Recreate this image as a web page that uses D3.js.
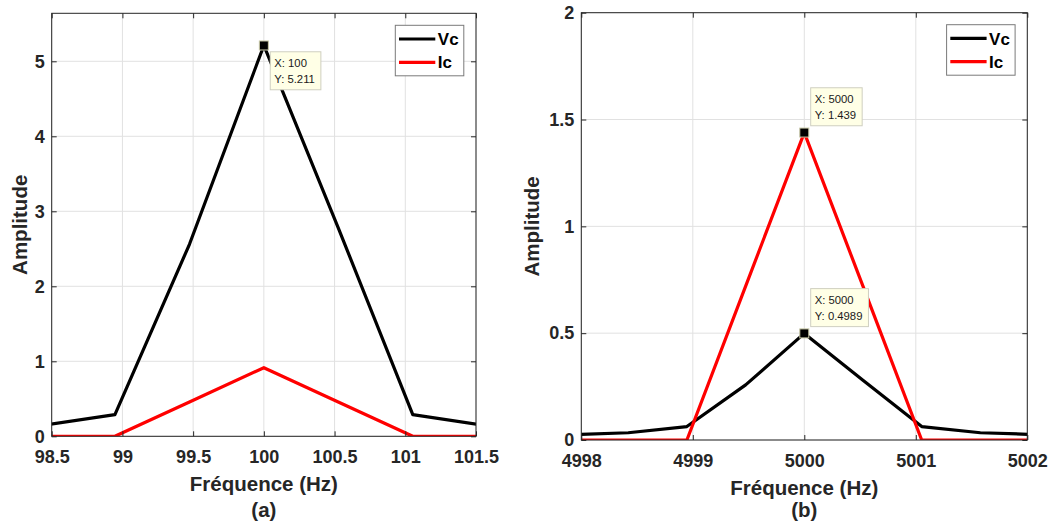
<!DOCTYPE html>
<html>
<head>
<meta charset="utf-8">
<script src="https://cdn.jsdelivr.net/npm/d3@7"></script>
<style>
  html, body { margin: 0; padding: 0; background: #ffffff; }
  svg { display: block; font-family: "Liberation Sans", Arial, Helvetica, sans-serif; }
</style>
</head>
<body>
<svg id="chart" width="1052" height="529"></svg>
<script>
// ---------------- DATA ----------------
// Panel (a)
const freqA = [98.421, 98.947, 99.474, 100, 100.526, 101.053, 101.579];
const vcA   = [0.14, 0.288, 2.56, 5.211, 2.78, 0.288, 0.14];
const icA   = [0, 0, 0.457, 0.915, 0.457, 0, 0];
const xTicksA = [98.5, 99, 99.5, 100, 100.5, 101, 101.5];
const xTickLabelsA = ["98.5", "99", "99.5", "100", "100.5", "101", "101.5"];
const yTicksA = [0, 1, 2, 3, 4, 5];
const yTickLabelsA = ["0", "1", "2", "3", "4", "5"];
const tipsA = [{ x: 100, y: 5.211, lines: ["X: 100", "Y: 5.211"], below: true }];

// Panel (b)
const freqB = [4997.895, 4998.421, 4998.947, 4999.474, 5000, 5000.526, 5001.053, 5001.579, 5002.105];
const vcB   = [0.025, 0.034, 0.063, 0.258, 0.4989, 0.28, 0.063, 0.034, 0.025];
const icB   = [0, 0, 0, 0.72, 1.439, 0.72, 0, 0, 0];
const xTicksB = [4998, 4999, 5000, 5001, 5002];
const xTickLabelsB = ["4998", "4999", "5000", "5001", "5002"];
const yTicksB = [0, 0.5, 1, 1.5, 2];
const yTickLabelsB = ["0", "0.5", "1", "1.5", "2"];
const tipsB = [
  { x: 5000, y: 1.439, lines: ["X: 5000", "Y: 1.439"], below: false },
  { x: 5000, y: 0.4989, lines: ["X: 5000", "Y: 0.4989"], below: false }
];

const seriesNames = ["Vc", "Ic"];
const seriesColors = ["#000000", "#ff0000"];

// ---------------- DRAW ----------------
const svg = d3.select("#chart");
const axisColor = "#262626";
const gridColor = "#e1e1e1";

function drawPanel(cfg) {
  const { id, left, right, top, bottom, xDomain, yDomain, xTicks, xLabels, yTicks, yLabels,
          freq, vc, ic, tips, caption, xLabelOffset, captionY, yLabelX } = cfg;
  const x = d3.scaleLinear().domain(xDomain).range([left, right]);
  const y = d3.scaleLinear().domain(yDomain).range([bottom, top]);
  const g = svg.append("g");

  // clip
  svg.append("clipPath").attr("id", "clip-" + id)
    .append("rect").attr("x", left).attr("y", top).attr("width", right - left).attr("height", bottom - top);

  // grid
  g.append("g").selectAll("line.gx").data(xTicks).join("line")
    .attr("x1", d => x(d)).attr("x2", d => x(d)).attr("y1", top).attr("y2", bottom)
    .attr("stroke", gridColor).attr("stroke-width", 1);
  g.append("g").selectAll("line.gy").data(yTicks).join("line")
    .attr("x1", left).attr("x2", right).attr("y1", d => y(d)).attr("y2", d => y(d))
    .attr("stroke", gridColor).attr("stroke-width", 1);

  // series lines
  const lineGen = d3.line().x((d, i) => x(freq[i])).y(d => y(d));
  const lg = g.append("g").attr("clip-path", "url(#clip-" + id + ")");
  [vc, ic].forEach((vals, k) => {
    lg.append("path").datum(vals)
      .attr("d", lineGen)
      .attr("fill", "none")
      .attr("stroke", seriesColors[k])
      .attr("stroke-width", 3.2)
      .attr("stroke-linejoin", "round");
  });

  // axes
  const fmtX = (d, i) => xLabels[i];
  const fmtY = (d, i) => yLabels[i];
  const axB = g.append("g").attr("transform", `translate(0,${bottom})`)
    .call(d3.axisBottom(x).tickValues(xTicks).tickFormat(fmtX).tickSizeInner(-5).tickSizeOuter(0).tickPadding(14));
  const axL = g.append("g").attr("transform", `translate(${left},0)`)
    .call(d3.axisLeft(y).tickValues(yTicks).tickFormat(fmtY).tickSizeInner(-5).tickSizeOuter(0).tickPadding(7));
  const axT = g.append("g").attr("transform", `translate(0,${top})`)
    .call(d3.axisTop(x).tickValues(xTicks).tickFormat("").tickSizeInner(-5).tickSizeOuter(0));
  const axR = g.append("g").attr("transform", `translate(${right},0)`)
    .call(d3.axisRight(y).tickValues(yTicks).tickFormat("").tickSizeInner(-5).tickSizeOuter(0));
  [axB, axL, axT, axR].forEach(a => {
    a.select(".domain").remove();
    a.selectAll(".tick line").attr("stroke", axisColor);
    a.selectAll(".tick text").attr("fill", axisColor)
      .style("font-size", "18px").style("font-weight", "bold")
      .style("font-family", '"Liberation Sans", Arial, sans-serif');
  });
  g.append("rect").attr("x", left).attr("y", top).attr("width", right - left).attr("height", bottom - top)
    .attr("fill", "none").attr("stroke", axisColor).attr("stroke-width", 1);

  // axis labels
  g.append("text").attr("x", (left + right) / 2).attr("y", bottom + xLabelOffset)
    .attr("text-anchor", "middle").attr("fill", axisColor)
    .style("font-size", "20.5px").style("font-weight", "bold").text("Fréquence (Hz)");
  g.append("text").attr("x", (left + right) / 2).attr("y", captionY)
    .attr("text-anchor", "middle").attr("fill", axisColor)
    .style("font-size", "20.5px").style("font-weight", "bold").text(caption);
  g.append("text")
    .attr("transform", `translate(${yLabelX},${(top + bottom) / 2}) rotate(-90)`)
    .attr("text-anchor", "middle").attr("fill", axisColor)
    .style("font-size", "20.5px").style("font-weight", "bold").text("Amplitude");

  // legend
  const lgX = right - 80.7, lgY = top + 12, lgW = 68.5, lgH = 50.5;
  const leg = g.append("g");
  leg.append("rect").attr("x", lgX).attr("y", lgY).attr("width", lgW).attr("height", lgH)
    .attr("fill", "#ffffff").attr("stroke", "#7a7a7a").attr("stroke-width", 1);
  seriesNames.forEach((name, k) => {
    const ly = lgY + 13.7 + k * 23.3;
    leg.append("line").attr("x1", lgX + 3.7).attr("x2", lgX + 40).attr("y1", ly).attr("y2", ly)
      .attr("stroke", seriesColors[k]).attr("stroke-width", 3.2);
    leg.append("text").attr("x", lgX + 42.5).attr("y", ly).attr("dy", "0.36em")
      .attr("fill", "#000").style("font-size", "17px").style("font-weight", "bold").text(name);
  });

  // data tips
  tips.forEach(t => {
    const px = x(t.x), py = y(t.y);
    const tg = g.append("g");
    const bx = px + 6.4;
    const by = t.below ? py + 6.3 : py - 44.8;
    const rect = tg.append("rect").attr("x", bx).attr("y", by).attr("height", 38)
      .attr("fill", "#ffffe6").attr("stroke", "#cfcfc0").attr("stroke-width", 1);
    let maxW = 0;
    t.lines.forEach((s, i) => {
      const tx = tg.append("text").attr("x", bx + 4).attr("y", by + 15.5 + i * 16)
        .attr("fill", "#1a1a1a").style("font-size", "11.3px").text(s);
      maxW = Math.max(maxW, tx.node().getComputedTextLength());
    });
    rect.attr("width", maxW + 10);
    tg.append("rect").attr("x", px - 4.5).attr("y", py - 4.5).attr("width", 9).attr("height", 9)
      .attr("fill", "#000").attr("stroke", "#c9c9a8").attr("stroke-width", 1);
  });
}

drawPanel({
  id: "a", left: 51.7, right: 476, top: 13.3, bottom: 436.3,
  xDomain: [98.5, 101.5], yDomain: [0, 5.64],
  xTicks: xTicksA, xLabels: xTickLabelsA, yTicks: yTicksA, yLabels: yTickLabelsA,
  freq: freqA, vc: vcA, ic: icA, tips: tipsA, caption: "(a)",
  xLabelOffset: 55, captionY: 516.5, yLabelX: 26.5
});
drawPanel({
  id: "b", left: 581.3, right: 1027.3, top: 12.7, bottom: 440,
  xDomain: [4998, 5002], yDomain: [0, 2],
  xTicks: xTicksB, xLabels: xTickLabelsB, yTicks: yTicksB, yLabels: yTickLabelsB,
  freq: freqB, vc: vcB, ic: icB, tips: tipsB, caption: "(b)",
  xLabelOffset: 54.5, captionY: 517, yLabelX: 539
});
</script>
</body>
</html>
